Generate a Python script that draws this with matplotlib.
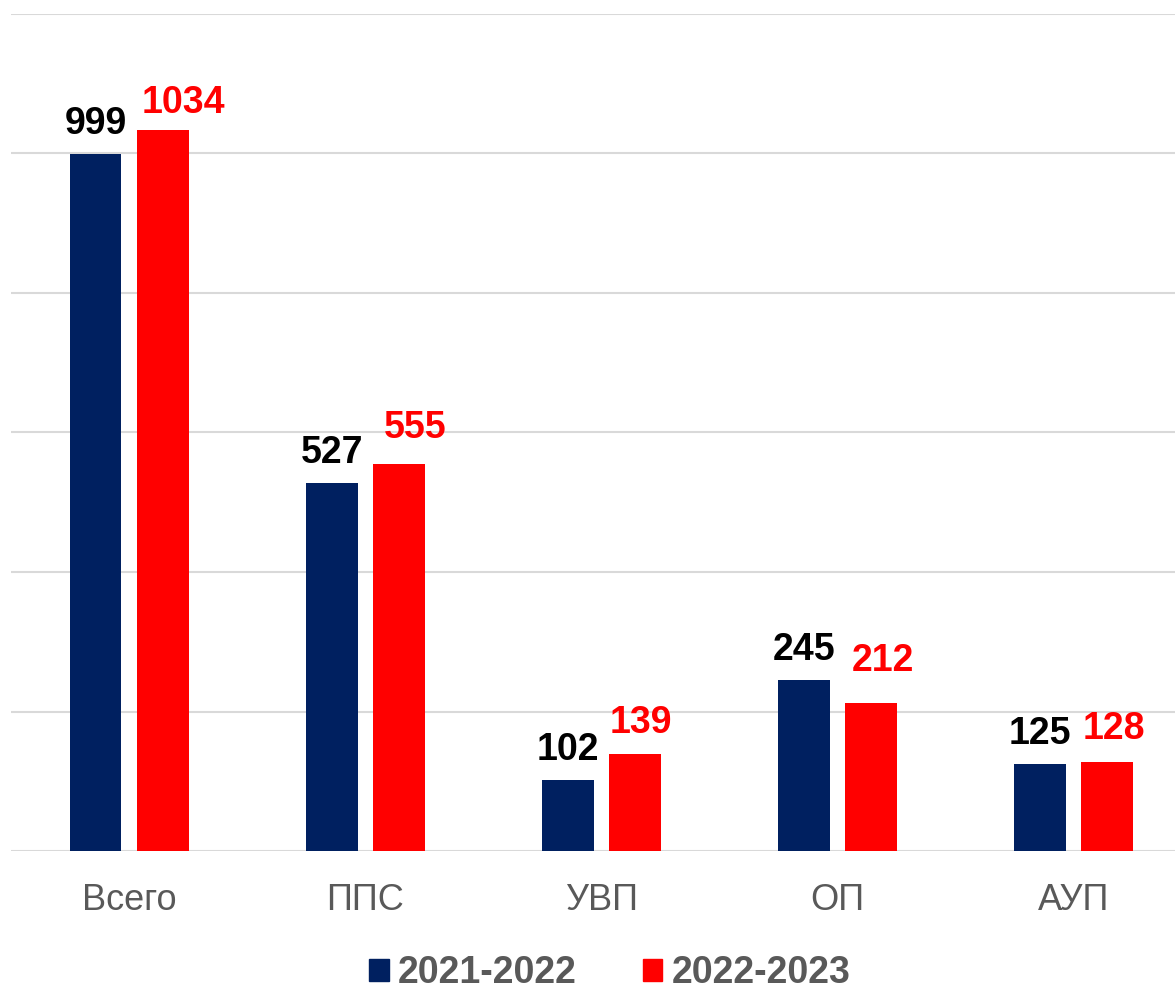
import matplotlib.pyplot as plt
import numpy as np
from matplotlib.patches import Patch

plt.rcParams['font.family'] = ['Liberation Sans', 'DejaVu Sans']

categories = ["Всего", "ППС", "УВП", "ОП", "АУП"]
years = ["2021-2022", "2022-2023"]
vals_2021 = [999, 527, 102, 245, 125]
vals_2022 = [1034, 555, 139, 212, 128]

# label nudges (pixels) - the red labels were moved by hand in the original
shift_2021 = [(0, 20)] * 5
shift_2022 = [(21, 17), (16, 26), (6, 21), (12, 32), (7, 23)]

navy = "#002060"
red = "#FF0000"
gray = "#595959"

fig = plt.figure(figsize=(11.75, 9.91), dpi=100)
ax = fig.add_axes([11 / 1175, 140 / 991, 1164 / 1175, 837 / 991])

x = np.arange(len(categories))
w = 0.22
off = 0.142

b1 = ax.bar(x - off, vals_2021, w, color=navy, zorder=2)
b2 = ax.bar(x + off, vals_2022, w, color=red, zorder=2)

for bars, vals, shifts, c in [(b1, vals_2021, shift_2021, "black"),
                              (b2, vals_2022, shift_2022, red)]:
    for b, v, s in zip(bars, vals, shifts):
        ax.annotate(str(v), (b.get_x() + b.get_width() / 2, v),
                    xytext=s, textcoords="offset pixels",
                    ha="center", va="baseline", fontsize=27,
                    fontweight="bold", color=c)

ax.set_xlim(-0.5, 4.43)
ax.set_ylim(0, 1200)
ax.set_yticks(np.arange(0, 1201, 200))
ax.set_yticklabels([])
ax.grid(axis="y", color="#D9D9D9", linewidth=1.5, zorder=0)
ax.set_xticks(x)
ax.set_xticklabels(categories, fontsize=26, color=gray)
ax.tick_params(axis="both", length=0)
ax.tick_params(axis="x", pad=23)
for s in ax.spines.values():
    s.set_visible(False)

handles = [Patch(color=navy), Patch(color=red)]
leg = fig.legend(handles, years, loc="center", bbox_to_anchor=(0.519, 0.018),
                 ncol=2, frameon=False, handlelength=0.51, handleheight=0.51,
                 handletextpad=0.24, columnspacing=1.78,
                 prop={"size": 27, "weight": "bold"})
for t in leg.get_texts():
    t.set_color(gray)

fig.savefig("out.png", dpi=100)
